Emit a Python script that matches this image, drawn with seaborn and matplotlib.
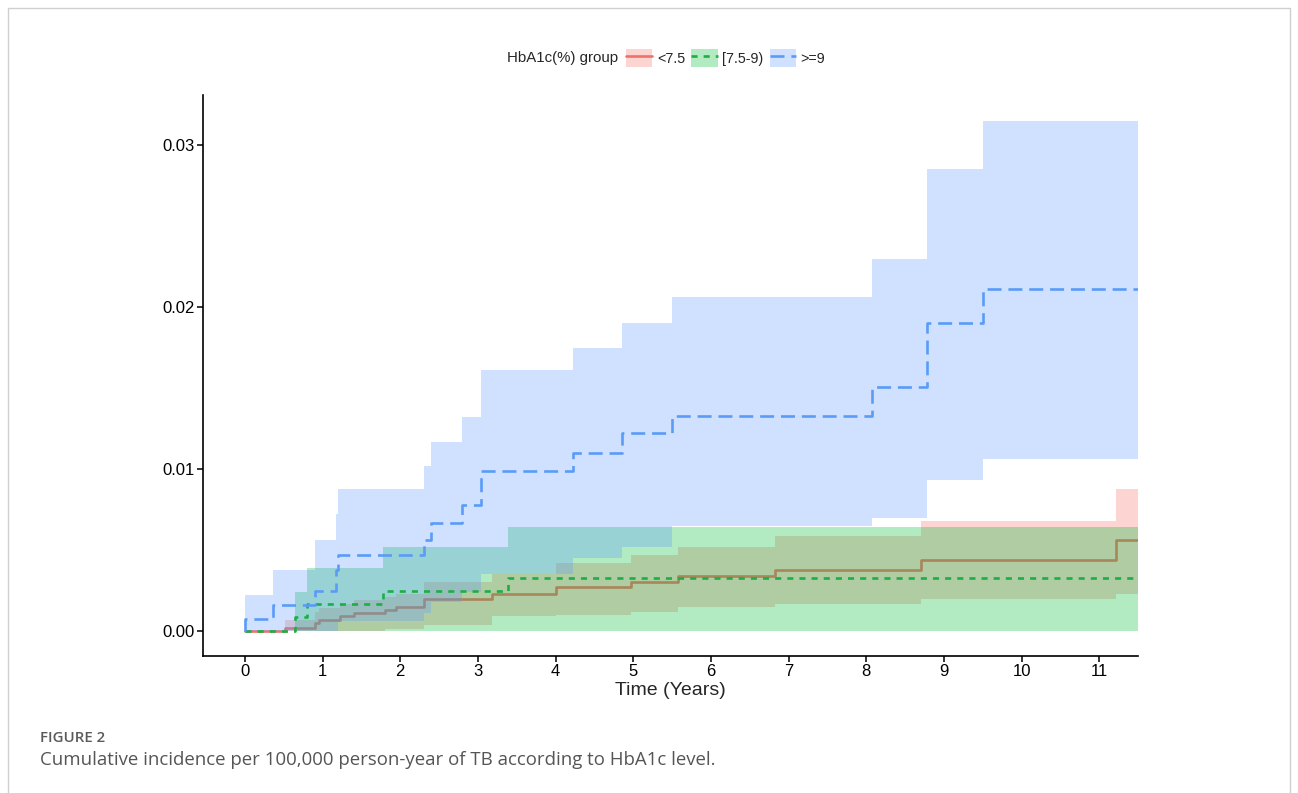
import numpy as np
import pandas as pd
import matplotlib
matplotlib.use("Agg")
import matplotlib.pyplot as plt
import seaborn as sns
from matplotlib.patches import Patch, Rectangle
from matplotlib.lines import Line2D
from matplotlib.ticker import FormatStrFormatter

# step curves: time (years), estimate, lower / upper CI
low_time = [0, 0.51, 0.9, 0.95, 1.22, 1.4, 1.8, 1.95, 2.3, 3.18, 4.0, 4.97, 5.58, 6.83, 8.71, 11.22]
low_est = [0, 0.0002, 0.0005, 0.0007, 0.0009, 0.0011, 0.0013, 0.0015, 0.0020, 0.0023, 0.0027, 0.0030, 0.0034, 0.0038, 0.0044, 0.0056]
low_lower = [0, 0, 0, 0, 0, 0, 0.0001, 0.0001, 0.0004, 0.0009, 0.0010, 0.0012, 0.0015, 0.0017, 0.0020, 0.0023]
low_upper = [0, 0.0007, 0.0012, 0.0014, 0.0017, 0.0019, 0.0021, 0.0023, 0.0030, 0.0035, 0.0042, 0.0047, 0.0052, 0.0059, 0.0068, 0.0088]

mid_time = [0, 0.64, 0.8, 1.78, 3.39]
mid_est = [0, 0.00085, 0.0017, 0.0025, 0.0033]
mid_lower = [0, 0, 0, 0, 0]
mid_upper = [0, 0.0024, 0.0039, 0.0052, 0.0064]

high_time = [0, 0, 0.36, 0.9, 1.17, 1.2, 2.3, 2.4, 2.8, 3.04, 4.22, 4.85, 5.5, 8.08, 8.78, 9.5]
high_est = [0, 0.00074, 0.0016, 0.0025, 0.0038, 0.0047, 0.0056, 0.0067, 0.0078, 0.0099, 0.0110, 0.0122, 0.0133, 0.0151, 0.0190, 0.0211]
high_lower = [0, 0, 0, 0, 0, 0.0006, 0.0011, 0.0018, 0.0024, 0.0035, 0.0045, 0.0052, 0.0065, 0.0070, 0.0093, 0.0106]
high_upper = [0, 0.0022, 0.0038, 0.0056, 0.0072, 0.0088, 0.0102, 0.0117, 0.0132, 0.0161, 0.0175, 0.0190, 0.0206, 0.0230, 0.0285, 0.0315]

t_end = 11.5
groups = ["<7.5", "[7.5-9)", ">=9"]
colors = ["#F8766D", "#00BA38", "#619CFF"]
line_colors = ["#F0706A", "#1DAE45", "#5B9BF8"]
styles = ["-", (0, (2.3, 2.3)), (0, (5.3, 2.6))]
band_z = [1, 3, 5]
line_z = [2, 6, 7]

sns.set_theme(style="ticks")
plt.rcParams["font.family"] = ["Liberation Sans", "DejaVu Sans"]

fig = plt.figure(figsize=(12.98, 7.93), dpi=100)
ax = fig.add_axes([203 / 1298, 1 - 656 / 793, (1138 - 203) / 1298, (656 - 95) / 793])

series = [
    (low_time, low_est, low_lower, low_upper),
    (mid_time, mid_est, mid_lower, mid_upper),
    (high_time, high_est, high_lower, high_upper),
]

# ribbons stacked in group order; the <7.5 line sits under the later ribbons
for i, (g, c, lc, ls, (t, est, lo, hi)) in enumerate(zip(groups, colors, line_colors, styles, series)):
    df = pd.DataFrame({
        "time": t + [t_end],
        "est": est + [est[-1]],
        "lower": lo + [lo[-1]],
        "upper": hi + [hi[-1]],
    })
    ax.fill_between(df["time"], df["lower"], df["upper"], step="post",
                    color=c, alpha=0.3, lw=0, zorder=band_z[i])
    sns.lineplot(data=df, x="time", y="est", ax=ax, estimator=None, sort=False,
                 drawstyle="steps-post", color=lc, lw=1.9, linestyle=ls, zorder=line_z[i])

ax.set_xlim(-0.54, 11.5)
ax.set_ylim(-0.00154, 0.0331)
ax.set_xticks(range(0, 12))
ax.set_yticks([0, 0.01, 0.02, 0.03])
ax.yaxis.set_major_formatter(FormatStrFormatter("%.2f"))
ax.set_xlabel("Time (Years)", fontsize=14, labelpad=2)
ax.set_ylabel("")
ax.tick_params(axis="both", labelsize=12, length=4, width=1.1, color="black",
               pad=2, labelcolor="black")
for s in ["top", "right"]:
    ax.spines[s].set_visible(False)
for s in ["left", "bottom"]:
    ax.spines[s].set_color("black")
    ax.spines[s].set_linewidth(1.2)
    ax.spines[s].set_zorder(10)

# legend across the top, title to the left of the keys
handles = [(Patch(facecolor=c, alpha=0.3, lw=0), Line2D([], [], color=lc, lw=1.9, linestyle=ls))
           for c, lc, ls in zip(colors, line_colors, styles)]
fig.text(618 / 1298, 1 - 58 / 793, "HbA1c(%) group", ha="right", va="center", fontsize=10.8)
fig.legend(handles, groups, loc="center left", bbox_to_anchor=(626 / 1298, 1 - 58 / 793),
           ncol=3, frameon=False, fontsize=10.3, handlelength=1.85, handleheight=1.6,
           handletextpad=0.3, columnspacing=0.45, borderpad=0, borderaxespad=0)

# figure frame and caption
fig.patches.append(Rectangle((8 / 1298, -0.05), (1290 - 8) / 1298, 1.05 - 8 / 793,
                             transform=fig.transFigure, fill=False, ec="#cfcfcf", lw=1))
fig.text(40 / 1298, 1 - 738 / 793, "FIGURE 2", fontsize=10.8, color="#5a5a5a",
         family=["Open Sans", "DejaVu Sans"], va="center", fontweight="semibold")
fig.text(40 / 1298, 1 - 760 / 793,
         "Cumulative incidence per 100,000 person-year of TB according to HbA1c level.",
         fontsize=13.4, color="#555555", family=["Open Sans", "DejaVu Sans"], va="center")

fig.savefig("out.png", dpi=100)
